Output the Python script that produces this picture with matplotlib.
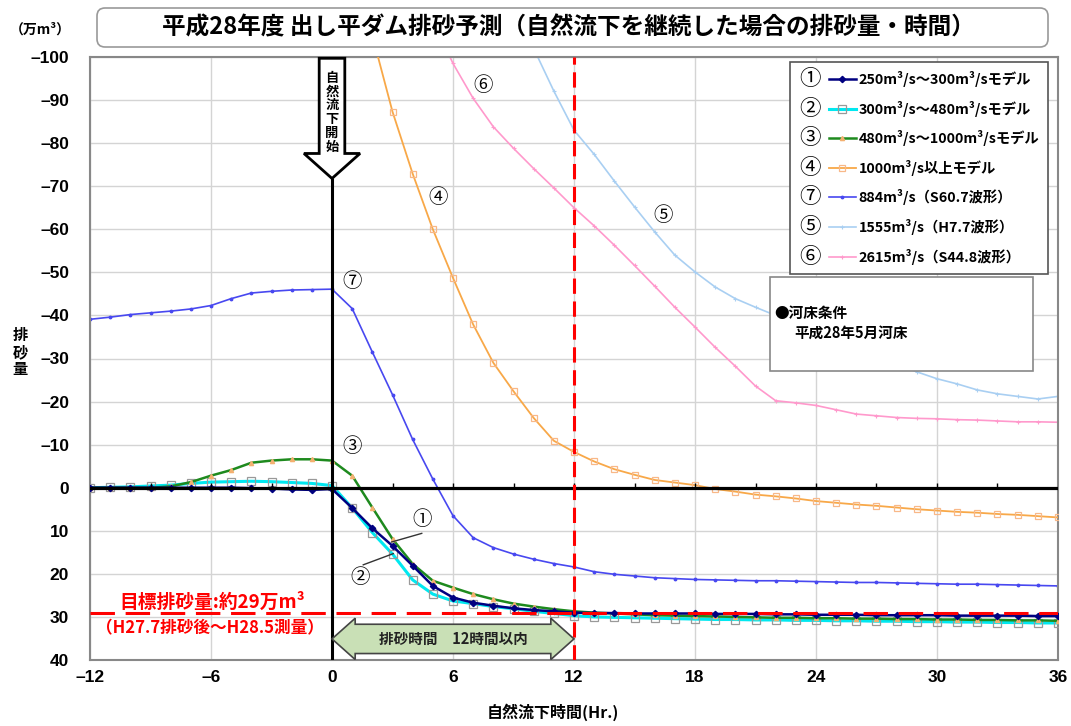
import numpy as np
import matplotlib
matplotlib.use("Agg")
import matplotlib.pyplot as plt
from matplotlib.text import Text
from matplotlib.patches import FancyArrow, Rectangle, FancyBboxPatch, Polygon
from matplotlib.legend_handler import HandlerLine2D
from matplotlib.transforms import IdentityTransform

JP = ["Noto Sans CJK JP", "DejaVu Sans"]
NUM = ["Liberation Sans", "DejaVu Sans"]
plt.rcParams["font.family"] = JP

# --- data (万m3, negative = deposit side / upper part of chart)
hours = np.arange(-12, 37)
s1 = [0.0, 0.0, 0.0, 0.0, 0.0, 0.0, 0.0, 0.0, 0.1, 0.2, 0.4, 0.5, 0.3,
      4.7, 9.4, 13.5, 18.1, 22.8, 25.5, 26.7, 27.4, 28.0, 28.4, 28.7, 29.0,
      29.1, 29.1, 29.2, 29.2, 29.2, 29.2, 29.3, 29.3, 29.3, 29.4, 29.4, 29.5,
      29.5, 29.5, 29.6, 29.6, 29.6, 29.6, 29.7, 29.7, 29.7, 29.7, 29.8, 29.8]
s2 = [0.0, -0.1, -0.2, -0.4, -0.6, -1.0, -1.3, -1.4, -1.5, -1.4, -1.2, -1.0, -0.5,
      4.7, 10.4, 15.4, 21.4, 24.7, 26.3, 26.9, 27.6, 28.1, 28.7, 29.2, 29.7,
      30.0, 30.1, 30.2, 30.3, 30.4, 30.5, 30.6, 30.6, 30.7, 30.7, 30.8, 30.8,
      30.9, 30.9, 31.0, 31.0, 31.1, 31.1, 31.2, 31.2, 31.3, 31.3, 31.4, 31.4]
s3 = [0.0, 0.0, 0.0, 0.0, -0.3, -1.3, -2.8, -4.1, -5.8, -6.3, -6.6, -6.6, -6.3,
      -2.8, 4.6, 11.9, 17.7, 21.6, 23.2, 24.7, 25.9, 26.9, 27.6, 28.2, 28.7,
      29.0, 29.2, 29.4, 29.6, 29.7, 29.8, 29.9, 30.0, 30.1, 30.2, 30.2, 30.3,
      30.3, 30.4, 30.4, 30.5, 30.5, 30.6, 30.6, 30.7, 30.7, 30.8, 30.8, 30.9]
s7 = [-39.1, -39.6, -40.2, -40.6, -41.0, -41.5, -42.3, -43.9, -45.2, -45.6, -45.9, -46.0, -46.1,
      -41.6, -31.5, -21.6, -11.2, -2.0, 6.5, 11.6, 13.9, 15.4, 16.6, 17.6, 18.4,
      19.5, 20.1, 20.5, 20.9, 21.1, 21.3, 21.4, 21.5, 21.6, 21.6, 21.7, 21.8,
      21.9, 22.0, 22.0, 22.1, 22.2, 22.3, 22.4, 22.4, 22.5, 22.6, 22.7, 22.8]

hours4 = np.arange(2, 37)
s4 = [-105.0, -87.3, -72.9, -60.0, -48.7, -37.9, -29.0, -22.4, -16.2, -10.9, -8.3,
      -6.1, -4.3, -3.0, -1.8, -1.2, -0.6, 0.3, 0.9, 1.6, 2.0, 2.5, 3.1,
      3.5, 3.9, 4.2, 4.6, 5.0, 5.3, 5.6, 5.8, 6.1, 6.3, 6.6, 6.9]

hours5 = np.arange(10, 37)
s5 = [-102.0, -92.1, -83.0, -77.4, -71.2, -65.2, -59.4, -54.0, -50.1, -46.6, -43.9,
      -41.9, -40.0, -38.0, -36.0, -34.0, -32.0, -30.2, -28.6, -26.9, -25.3,
      -24.1, -22.7, -21.8, -21.2, -20.6, -21.2]

hours6 = np.arange(5, 37)
s6 = [-108.5, -98.5, -90.4, -83.8, -78.8, -74.1, -69.6, -65.0, -60.8, -56.3, -51.6,
      -46.8, -41.9, -37.3, -32.6, -28.2, -23.6, -20.2, -19.7, -19.1, -18.1, -17.1,
      -16.7, -16.3, -16.1, -16.0, -15.8, -15.7, -15.5, -15.3, -15.3, -15.2]

labels = ["250m³/s～300m³/sモデル", "300m³/s～480m³/sモデル", "480m³/s～1000m³/sモデル",
          "1000m³/s以上モデル", "884m³/s（S60.7波形）", "1555m³/s（H7.7波形）", "2615m³/s（S44.8波形）"]
nums = ["①", "②", "③", "④", "⑦", "⑤", "⑥"]

target = 29
x_ticks = list(range(-12, 37, 6))
y_ticks = list(range(-100, 41, 10))


class NumberedHandler(HandlerLine2D):
    # circled number drawn left of the line sample
    def __init__(self, num, **kw):
        super().__init__(**kw)
        self.num = num

    def create_artists(self, legend, orig_handle, xdescent, ydescent, width, height, fontsize, trans):
        gap = width * 0.52
        arts = super().create_artists(legend, orig_handle, xdescent - gap, ydescent,
                                      width - gap, height, fontsize, trans)
        t = Text(-xdescent, -ydescent + height / 2, self.num, ha="left", va="center",
                 fontsize=fontsize * 1.5, family=JP, transform=trans)
        return [t] + list(arts)


fig = plt.figure(figsize=(10.71, 7.26), dpi=100)
ax = fig.add_axes([90 / 1071, 66 / 726, 968 / 1071, 603 / 726])

l6, = ax.plot(hours6, s6, color="#FF99CC", lw=1.2, marker="+", ms=3.5, mew=0.8, zorder=2)
l5, = ax.plot(hours5, s5, color="#A9CFF2", lw=1.2, marker="+", ms=3.5, mew=0.8, zorder=2)
l7, = ax.plot(hours, s7, color="#4848F0", lw=1.2, marker=".", ms=3.5, zorder=2)
l4, = ax.plot(hours4, s4, color="#F8A848", lw=1.3, marker="s", ms=5, mfc="none",
              mec="#F8B888", mew=0.9, zorder=3)
l2, = ax.plot(hours, s2, color="#00E8F0", lw=2.2, marker="s", ms=5.5, mfc="none",
              mec="#999999", mew=0.9, zorder=3)
l3, = ax.plot(hours, s3, color="#1E8A1E", lw=1.8, marker="^", ms=3, mfc="#F4B070",
              mec="#F4B070", zorder=3)
l1, = ax.plot(hours, s1, color="#000080", lw=1.8, marker="D", ms=3.2, zorder=4)

ax.set_xlim(-12, 36)
ax.set_ylim(40, -100)
ax.set_xticks(x_ticks)
ax.set_yticks(y_ticks)
ax.set_xticklabels([str(v).replace("-", "–") for v in x_ticks], family=NUM, weight="bold", fontsize=12.5)
ax.set_yticklabels([str(v).replace("-", "–") for v in y_ticks], family=NUM, weight="bold", fontsize=12.5)
ax.tick_params(length=0)
ax.tick_params(axis="y", pad=15)
ax.tick_params(axis="x", pad=7)
ax.grid(True, color="#d4d4d4", lw=1, zorder=0)
ax.set_axisbelow(True)
for sp in ax.spines.values():
    sp.set_color("#888888")
    sp.set_linewidth(1.5)

# zero line with small ticks every 3 h
ax.axhline(0, color="black", lw=2.3, zorder=5)
ax.vlines(np.arange(-9, 36, 3), -1.1, 0, color="black", lw=1, zorder=5)

# target line and 12 h line
ax.axhline(target, color="red", lw=2.2, dashes=(8, 3.5), zorder=7)
ax.axvline(12, color="red", lw=2.2, dashes=(5, 2.5), zorder=7)

# start-of-flushing arrow
ax.vlines(0, -72, 40, color="black", lw=2.2, zorder=6)
ax.add_patch(FancyArrow(0, -99.7, 0, 27.9, width=1.27, head_width=2.78, head_length=5.8,
                        length_includes_head=True, fc="white", ec="black", lw=2, zorder=8,
                        clip_on=False))
ax.text(0, -87.2, "\n".join("自然流下開始"), ha="center", va="center", fontsize=9.5,
        weight="bold", linespacing=0.98, zorder=9)

# duration double arrow
ax.add_patch(Polygon([(0, 35.1), (1.15, 30.3), (1.15, 31.7), (10.85, 31.7), (10.85, 30.3),
                      (12, 35.1), (10.85, 39.9), (10.85, 38.5), (1.15, 38.5), (1.15, 39.9)],
                     closed=True, fc="#C9E0B6", ec="#444444", lw=1.2, zorder=8))
ax.text(6, 35.1, "排砂時間　12時間以内", ha="center", va="center", fontsize=10.5,
        weight="bold", color="#222222", zorder=9)

# target text
ax.text(-5.95, 26.6, "目標排砂量:約29万m³", color="red", fontsize=13.5, weight="bold",
        ha="center", va="center", zorder=9)
ax.text(-6.05, 32.6, "（H27.7排砂後～H28.5測量）", color="red", fontsize=12, weight="bold",
        ha="center", va="center", zorder=9)

# circled series labels
for txt, hx, vy in [("⑥", 7.5, -93.3), ("④", 5.25, -67.4), ("⑤", 16.4, -63.3),
                    ("⑦", 1.0, -47.9), ("③", 1.0, -9.5), ("①", 4.45, 7.4), ("②", 1.4, 20.9)]:
    ax.text(hx, vy, txt, fontsize=14, ha="center", va="center", zorder=9)
ax.plot([4.45, 2.96], [10.6, 12.6], color="#333333", lw=1, zorder=9)
ax.plot([1.55, 3.04], [17.9, 15.3], color="#333333", lw=1, zorder=9)

# legend
handles = [l1, l2, l3, l4, l7, l5, l6]
leg = ax.legend(handles, labels, loc="upper right", bbox_to_anchor=(0.99, 0.992),
                handler_map={h: NumberedHandler(n) for h, n in zip(handles, nums)},
                prop={"family": JP, "weight": "bold", "size": 10.3},
                handlelength=3.9, handletextpad=0.2, labelspacing=0.95, borderpad=0.65,
                borderaxespad=0, fancybox=False, framealpha=1, edgecolor="#555555")
leg.get_frame().set_linewidth(1.2)
leg.set_zorder(10)

# river bed condition box
ax.add_patch(Rectangle((0.7025, 0.479), 0.2715, 0.156, transform=ax.transAxes,
                       fc="white", ec="#888888", lw=1.2, zorder=10))
ax.text(0.707, 0.5755, "●河床条件", transform=ax.transAxes, fontsize=10.5,
        weight="bold", va="center", ha="left", zorder=11)
ax.text(0.728, 0.542, "平成28年5月河床", transform=ax.transAxes, fontsize=10.5,
        weight="bold", va="center", ha="left", zorder=11)

# title box
fig.patches.append(FancyBboxPatch((97, 726 - 47), 951, 39, boxstyle="round,pad=0,rounding_size=8",
                                  transform=IdentityTransform(), fc="white", ec="#999999", lw=1.2))
fig.text(568 / 1071, 1 - 27 / 726, "平成28年度 出し平ダム排砂予測（自然流下を継続した場合の排砂量・時間）",
         ha="center", va="center", fontsize=17, weight="bold")
fig.text(40 / 1071, 1 - 30 / 726, "（万m³）", ha="center", va="center", fontsize=10, weight="bold")
fig.text(20 / 1071, 1 - 352 / 726, "排\n砂\n量", ha="center", va="center", fontsize=11,
         weight="bold", linespacing=1.05)
fig.text(553 / 1071, 1 - 712 / 726, "自然流下時間(Hr.)", ha="center", va="center",
         fontsize=11.5, weight="bold")

fig.savefig("out.png", dpi=100)
